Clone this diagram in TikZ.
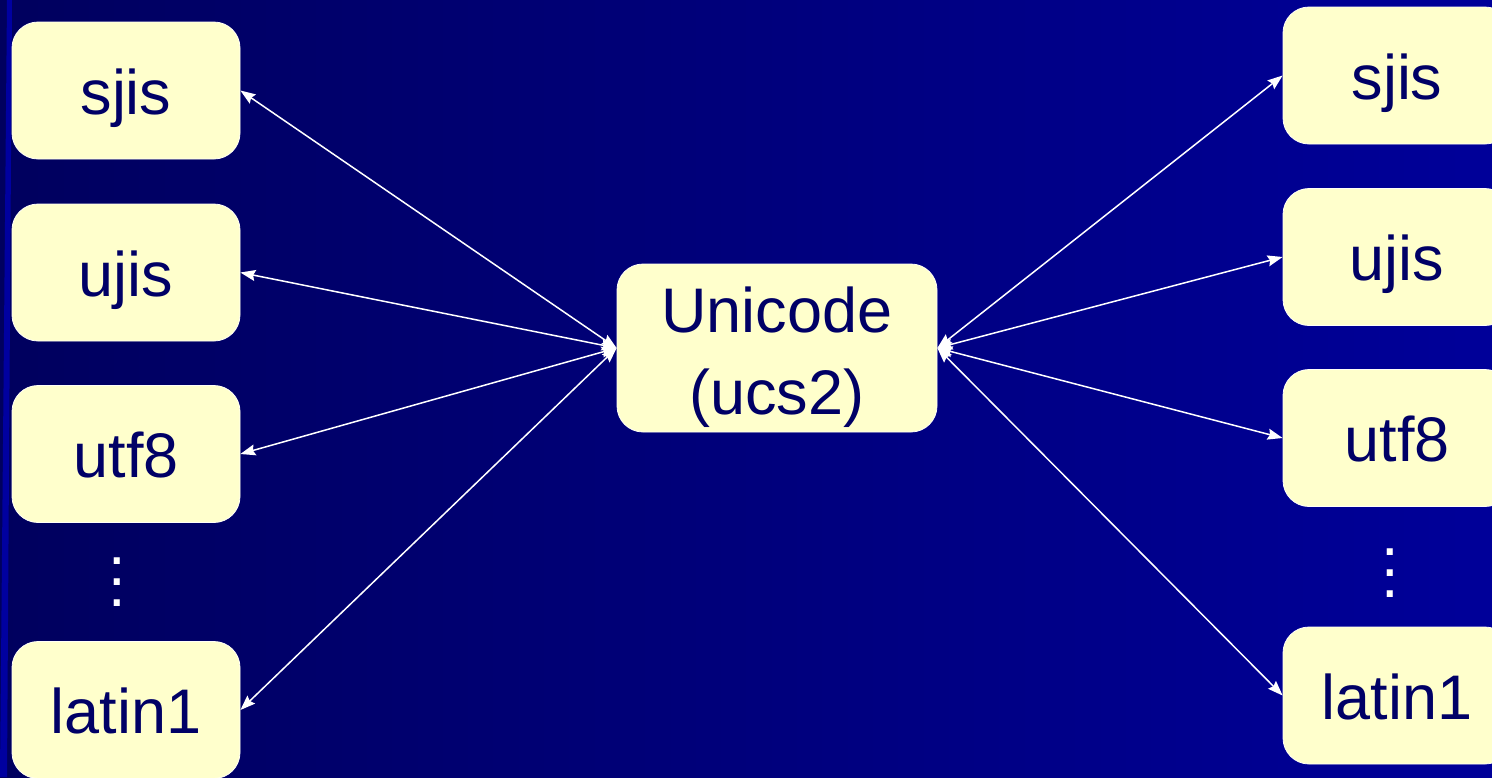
\documentclass[tikz,border=0pt]{standalone}
\usepackage{fontspec}
\setmainfont{Liberation Sans}
\usetikzlibrary{arrows.meta}
\definecolor{bgleft}{HTML}{00005E}
\definecolor{bgright}{HTML}{000099}
\definecolor{strip}{HTML}{0000A0}
\definecolor{boxfill}{HTML}{FFFFCC}
\definecolor{boxtext}{HTML}{000066}
\tikzset{
  boxbase/.style={draw=white!85!boxfill, line width=0.8pt, fill=boxfill, rounded corners=26pt,
    inner sep=0pt, text=boxtext},
  enc/.style={boxbase, minimum width=228pt, minimum height=137pt,
    text height=50pt, text depth=3pt, font=\fontsize{63}{70}\selectfont},
  uni/.style={boxbase, minimum width=320pt, minimum height=168pt, align=center,
    font=\fontsize{63}{82}\selectfont},
  conv/.style={draw=white, line width=1.5pt,
    {Stealth[length=15pt,width=11pt,inset=2pt]}-{Stealth[length=15pt,width=11pt,inset=2pt]}},
  vdots/.style={text=white, align=center, inner sep=0pt, font=\fontsize{63}{21}\selectfont}
}
\begin{document}
\begin{tikzpicture}[x=1pt,y=-1pt]
\useasboundingbox (0,0) rectangle (1492,777);
\clip (0,0) rectangle (1492,777);
\shade[left color=bgleft, right color=bgright] (0,0) rectangle (1492,777);
\fill[strip] (7,0) -- (12,0) -- (7,777) -- (0,777) -- cycle;

% left column
\node[enc] (ls) at (126,90.5) {sjis};
\node[enc] (lu) at (126,272.5) {ujis};
\node[enc] (lt) at (126,454) {utf8};
\node[enc] (ll) at (126,710) {latin1};
\node[vdots] (ld) at (117,582) {.\\.\\.};

% center
\node[uni] (u) at (777,348) {\rule{0pt}{65pt}Unicode\\(ucs2)};

% right column
\node[enc] (rs) at (1397,75.5) {sjis};
\node[enc] (ru) at (1397,257) {ujis};
\node[enc] (rt) at (1397,438) {utf8};
\node[enc] (rl) at (1397,695.5) {latin1};
\node[vdots] (rd) at (1390,573) {.\\.\\.};

% connectors
\draw[conv] (u.west) -- (ls.east);
\draw[conv] (u.west) -- (lu.east);
\draw[conv] (u.west) -- (lt.east);
\draw[conv] (u.west) -- (ll.east);
\draw[conv] (u.east) -- (rs.west);
\draw[conv] (u.east) -- (ru.west);
\draw[conv] (u.east) -- (rt.west);
\draw[conv] (u.east) -- (rl.west);
\end{tikzpicture}
\end{document}
